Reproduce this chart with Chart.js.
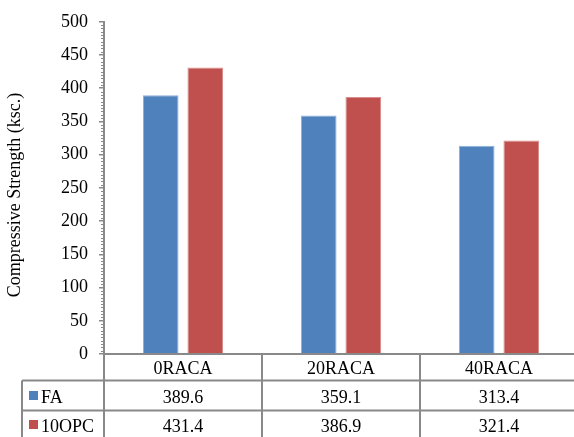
<!DOCTYPE html>
<html>
<head>
<meta charset="utf-8">
<script src="https://cdn.jsdelivr.net/npm/chart.js@4.4.1/dist/chart.umd.min.js"></script>
<style>
  html, body { margin: 0; padding: 0; background: #fff; overflow: hidden; }
  #wrap { width: 578px; height: 437px; }
</style>
</head>
<body>
<div id="wrap"><canvas id="chart" width="578" height="437"></canvas></div>
<script>
const categories = ['0RACA', '20RACA', '40RACA'];
const seriesNames = ['FA', '10OPC'];
const faValues = [389.6, 359.1, 313.4];
const opcValues = [431.4, 386.9, 321.4];
const seriesColors = ['#4F81BD', '#C0504D'];
const yMin = 0;
const yMax = 500;
const yMajorStep = 50;
const yMinorStep = 5;
const axisTitle = 'Compressive Strength (ksc.)';

const LINE = '#898989';
const FONT = '"Liberation Serif", "Times New Roman", serif';

// small ticks between the labelled ones on the value axis
const minorTicks = {
  id: 'minorTicks',
  afterDraw(chart) {
    const y = chart.scales.y;
    const ctx = chart.ctx;
    ctx.save();
    ctx.strokeStyle = LINE;
    ctx.lineWidth = 1;
    ctx.beginPath();
    for (let v = yMin; v <= yMax; v += yMinorStep) {
      if (v % yMajorStep === 0) continue;
      const py = Math.round(y.getPixelForValue(v)) + 0.5;
      ctx.moveTo(y.right - 3, py);
      ctx.lineTo(y.right, py);
    }
    ctx.stroke();
    ctx.restore();
  }
};

// rotated value-axis title, sat a little below the axis middle
const axisTitlePlugin = {
  id: 'axisTitle',
  afterDraw(chart) {
    const ctx = chart.ctx;
    const area = chart.chartArea;
    ctx.save();
    ctx.translate(15, (area.top + area.bottom) / 2 + 7);
    ctx.rotate(-Math.PI / 2);
    ctx.fillStyle = '#000';
    ctx.font = '18px ' + FONT;
    ctx.textAlign = 'center';
    ctx.textBaseline = 'middle';
    ctx.fillText(axisTitle, 0, 0);
    ctx.restore();
  }
};

// data table under the plot: category header row + one row per series
const dataTable = {
  id: 'dataTable',
  afterDraw(chart) {
    const ctx = chart.ctx;
    const x = chart.scales.x;
    const area = chart.chartArea;
    const top = area.bottom;
    const rowTop = [top, top + 26.5, top + 56.5];
    const baselines = [top + 20, top + 49, top + 78];
    const bottom = chart.height + 10;
    const legendLeft = 22;
    const series = [faValues, opcValues];

    const edges = categories.map((_, i) => x.getPixelForValue(i - 0.5));
    edges.push(x.getPixelForValue(categories.length - 0.5));

    ctx.save();
    ctx.strokeStyle = LINE;
    ctx.lineWidth = 2;
    ctx.beginPath();
    ctx.moveTo(area.left, top);
    ctx.lineTo(area.right, top);
    ctx.moveTo(legendLeft, rowTop[1]);
    ctx.lineTo(area.right, rowTop[1]);
    ctx.moveTo(legendLeft, rowTop[2]);
    ctx.lineTo(area.right, rowTop[2]);
    edges.forEach((e) => {
      ctx.moveTo(e, top);
      ctx.lineTo(e, bottom);
    });
    ctx.moveTo(legendLeft, rowTop[1]);
    ctx.lineTo(legendLeft, bottom);
    ctx.stroke();

    ctx.fillStyle = '#000';
    ctx.font = '18px ' + FONT;
    ctx.textAlign = 'center';
    ctx.textBaseline = 'alphabetic';
    categories.forEach((c, i) => {
      const cx = x.getPixelForValue(i);
      ctx.fillText(c, cx, baselines[0]);
      series.forEach((vals, s) => {
        ctx.fillText(vals[i].toFixed(1), cx, baselines[s + 1]);
      });
    });

    ctx.textAlign = 'left';
    seriesNames.forEach((name, s) => {
      ctx.fillStyle = seriesColors[s];
      ctx.fillRect(29, baselines[s + 1] - 12, 9, 9);
      ctx.fillStyle = '#000';
      ctx.fillText(name, 41, baselines[s + 1]);
    });
    ctx.restore();
  }
};

new Chart(document.getElementById('chart'), {
  type: 'bar',
  data: {
    labels: categories,
    datasets: [
      {
        label: seriesNames[0],
        data: faValues,
        backgroundColor: seriesColors[0],
        borderColor: '#8fb0d9',
        borderWidth: 1,
        categoryPercentage: 0.563,
        barPercentage: 0.8
      },
      {
        label: seriesNames[1],
        data: opcValues,
        backgroundColor: seriesColors[1],
        borderColor: '#d98f8d',
        borderWidth: 1,
        categoryPercentage: 0.563,
        barPercentage: 0.8
      }
    ]
  },
  options: {
    responsive: false,
    animation: false,
    layout: { padding: { top: 20, right: 0, bottom: 0, left: 0 } },
    plugins: {
      legend: { display: false },
      tooltip: { enabled: false }
    },
    scales: {
      x: {
        grid: { display: false },
        border: { display: false },
        ticks: { display: false },
        afterFit(scale) { scale.height = 83; }
      },
      y: {
        min: yMin,
        max: yMax,
        ticks: {
          stepSize: yMajorStep,
          padding: 11,
          color: '#000',
          font: { family: FONT, size: 18 }
        },
        grid: {
          drawOnChartArea: false,
          tickLength: 5,
          color: LINE,
          lineWidth: 1.5
        },
        border: { color: LINE, width: 2 },
        afterFit(scale) { scale.width = 104; }
      }
    }
  },
  plugins: [minorTicks, axisTitlePlugin, dataTable]
});
</script>
</body>
</html>
